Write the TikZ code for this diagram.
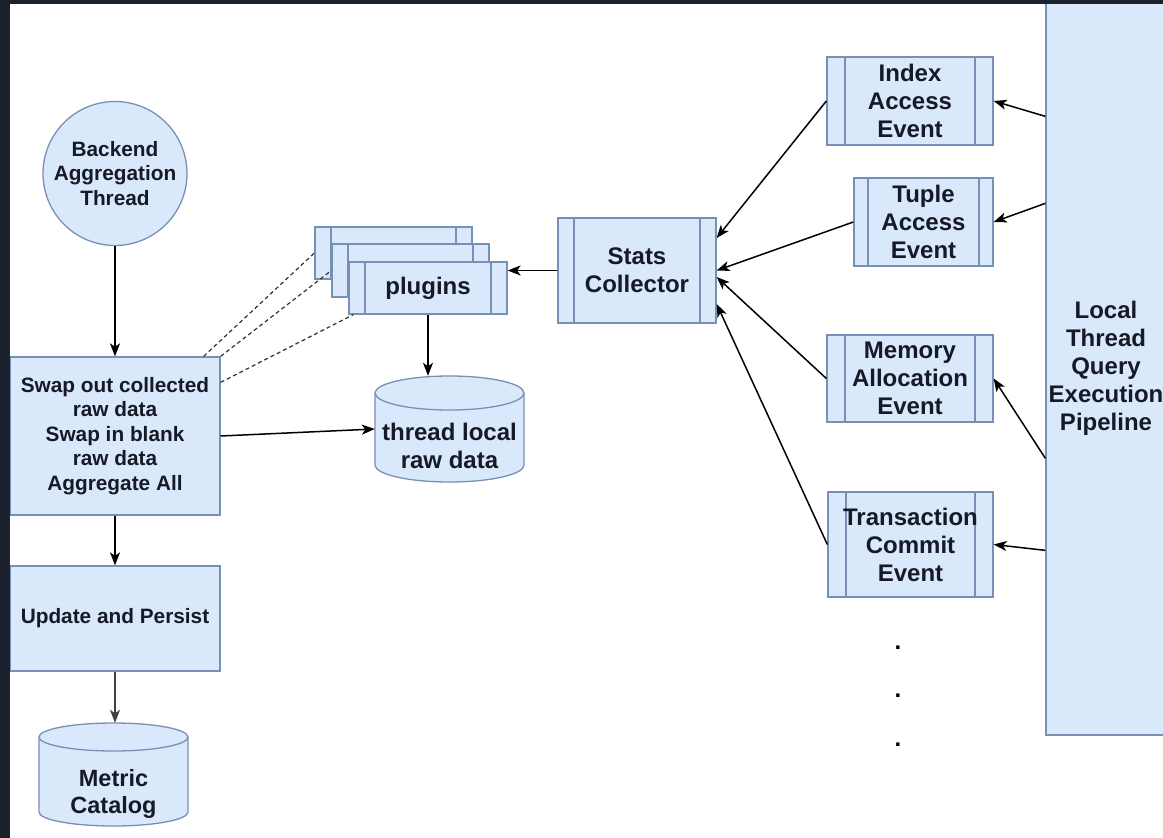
\documentclass[tikz,border=0pt]{standalone}
\usepackage{fontspec}
\setmainfont{Liberation Sans}
\usetikzlibrary{arrows.meta,calc}
\definecolor{fillc}{HTML}{DAE8FC}
\definecolor{strokec}{HTML}{7890B4}
\definecolor{txtc}{HTML}{161A26}
\definecolor{darkbg}{HTML}{1C222D}
\newcommand{\drawcyl}[5]{%
  \pgfmathsetmacro{\cylcx}{(#1+#2)/2}%
  \pgfmathsetmacro{\cylrx}{(#2-#1)/2}%
  \pgfmathsetmacro{\cylkx}{0.5523*\cylrx}%
  \pgfmathsetmacro{\cylky}{0.5523*#5}%
  \pgfmathsetmacro{\cylyt}{#3+#5}%
  \pgfmathsetmacro{\cylyb}{#4-#5}%
  \pgfmathsetmacro{\cylym}{#3+2*#5}%
  \filldraw[cylst] (#1,\cylyt) -- (#1,\cylyb)
    .. controls (#1,\cylyb+\cylky) and (\cylcx-\cylkx,#4) .. (\cylcx,#4)
    .. controls (\cylcx+\cylkx,#4) and (#2,\cylyb+\cylky) .. (#2,\cylyb)
    -- (#2,\cylyt)
    .. controls (#2,\cylyt-\cylky) and (\cylcx+\cylkx,#3) .. (\cylcx,#3)
    .. controls (\cylcx-\cylkx,#3) and (#1,\cylyt-\cylky) .. (#1,\cylyt) -- cycle;
  \draw[cylst, fill=none] (#1,\cylyt)
    .. controls (#1,\cylyt+\cylky) and (\cylcx-\cylkx,\cylym) .. (\cylcx,\cylym)
    .. controls (\cylcx+\cylkx,\cylym) and (#2,\cylyt+\cylky) .. (#2,\cylyt);
}
\begin{document}
\begin{tikzpicture}[x=1pt,y=-1pt,
  box/.style={draw=strokec, fill=fillc, line width=1.3pt, text=txtc, align=center, inner sep=0pt},
  proc/.style={box, path picture={
     \draw[strokec, line width=1.3pt] ([xshift=#1]path picture bounding box.north west) -- ([xshift=#1]path picture bounding box.south west);
     \draw[strokec, line width=1.3pt] ([xshift=-#1]path picture bounding box.north east) -- ([xshift=-#1]path picture bounding box.south east);}},
  cylst/.style={draw=strokec, fill=fillc, line width=1.3pt},
  fa/.style={font=\fontsize{20.8pt}{24.5pt}\selectfont\bfseries},
  fb/.style={font=\fontsize{24pt}{28pt}\selectfont\bfseries},
  fc/.style={font=\fontsize{23.5pt}{27pt}\selectfont\bfseries},
  arr/.style={-{Stealth[length=13pt,width=10pt,inset=3.5pt]}, line width=1.5pt, black},
  dsh/.style={dash pattern=on 4pt off 3pt, line width=1.2pt, black!80}]
\useasboundingbox (0,0) rectangle (1163,838);
\fill[white] (0,0) rectangle (1163,838);

% right pipeline
\node[box, fb, minimum width=120pt, minimum height=733pt] (pipe) at (1106,368.5) {Local\\Thread\\Query\\Execution\\Pipeline};

% events
\node[proc=18pt, fb, minimum width=166pt, minimum height=88pt] (idx) at (910,101) {Index\\Access\\Event};
\node[proc=14pt, fb, minimum width=139pt, minimum height=88pt] (tup) at (923.5,222) {Tuple\\Access\\Event};
\node[proc=18pt, fb, minimum width=166pt, minimum height=87pt] (mem) at (910,378.5) {Memory\\Allocation\\Event};
\node[proc=18pt, fb, minimum width=165pt, minimum height=105pt] (txn) at (910.5,544.5) {Transaction\\Commit\\Event};

% dots
\node[fb, anchor=base, text=black, inner sep=0pt] (d1) at (898,649) {.};
\node[fb, anchor=base, text=black, inner sep=0pt] (d2) at (898,697.5) {.};
\node[fb, anchor=base, text=black, inner sep=0pt] (d3) at (898,746) {.};

% stats collector
\node[proc=16pt, fb, minimum width=158pt, minimum height=105pt] (stats) at (637,270.5) {Stats\\Collector};

% plugins
\node[proc=16pt, minimum width=157pt, minimum height=52pt] (pb) at (393.5,253) {};
\node[proc=16pt, minimum width=157pt, minimum height=53pt] (pm) at (410.5,270.5) {};
\node[proc=16pt, fb, minimum width=158pt, minimum height=52pt] (pf) at (428,288) {plugins};

% left column
\node[box, circle, fa, minimum size=144pt] (circ) at (115,173.5) {Backend\\Aggregation\\Thread};
\node[box, fa, minimum width=210pt, minimum height=158pt] (swap) at (115,436) {Swap out collected\\raw data\\Swap in blank\\raw data\\Aggregate All};
\node[box, fa, minimum width=210pt, minimum height=105pt] (upd) at (115,618.5) {Update and Persist};

% cylinders
\node[inner sep=0pt, minimum width=149pt, minimum height=103pt] (metric) at (113.5,774.5) {};
\drawcyl{39}{188}{723}{826}{14}
\node[fc, text=txtc, align=center, inner sep=0pt] (metrictxt) at (113.5,794) {Metric\\Catalog};

\node[inner sep=0pt, minimum width=149pt, minimum height=106pt] (tld) at (449.5,429) {};
\drawcyl{375}{524}{376}{482}{17}
\node[fb, text=txtc, align=center, inner sep=0pt] (tldtxt) at (449.5,446) {thread local\\raw data};

% arrows
\draw[arr] ([yshift=-115pt]pipe.north west) -- (idx.east);
\draw[arr] ([yshift=-202pt]pipe.north west) -- (tup.east);
\draw[arr] ([yshift=-457pt]pipe.north west) -- (mem.east);
\draw[arr] ([yshift=-549pt]pipe.north west) -- (txn.east);

\draw[arr] (idx.west) -- ([yshift=32.5pt]stats.east);
\draw[arr] (tup.west) -- (stats.east);
\draw[arr] (mem.west) -- ([yshift=-6.5pt]stats.east);
\draw[arr] (txn.west) -- ([yshift=-33.5pt]stats.east);

\draw[arr] (stats.west) -- (stats.west -| pf.east);
\draw[arr] (pf.south) -- (pf.south |- tld.north);
\draw[arr] (swap.east) -- (tld.west);

\draw[arr] (circ.south) -- (swap.north);
\draw[arr] (swap.south) -- (upd.north);
\draw[arr, black!75] (upd.south) -- (upd.south |- metric.north);

% dashed
\draw[dsh] ([xshift=-17pt]swap.north east) -- (pb.west);
\draw[dsh] (swap.north east) -- (pm.west);
\draw[dsh] ([yshift=-26pt]swap.north east) -- ([xshift=5pt]pf.south west);

% dark frame
\fill[darkbg] (0,0) rectangle (1163,4);
\fill[darkbg] (0,0) rectangle (10,838);
\end{tikzpicture}
\end{document}
